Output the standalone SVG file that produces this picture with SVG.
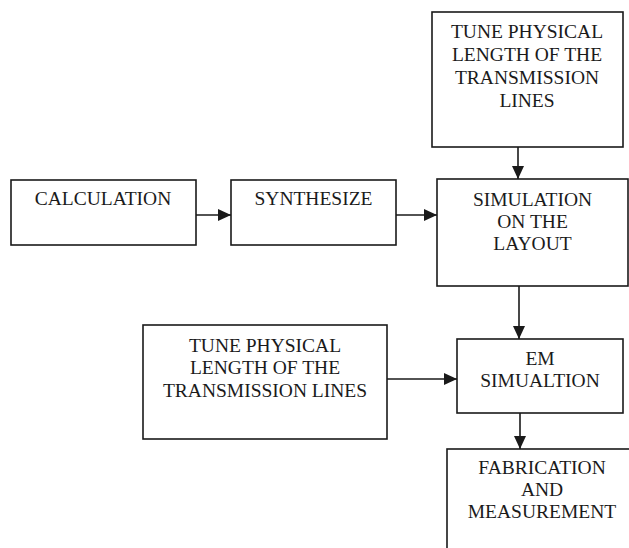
<svg xmlns="http://www.w3.org/2000/svg" width="629" height="548" viewBox="0 0 629 548">
<defs>
<style>
.box{fill:#fff;stroke:#1a1a1a;stroke-width:1.6}
.lbl{font-family:'Liberation Serif','Times New Roman','DejaVu Serif',serif;font-size:19.5px;fill:#1a1a1a;text-anchor:middle}
.con{stroke:#1a1a1a;stroke-width:1.6;fill:none;marker-end:url(#ah)}
</style>
<marker id="ah" markerUnits="userSpaceOnUse" markerWidth="14" markerHeight="13" refX="13" refY="6" orient="auto">
<path d="M0,0 L13,6 L0,12 z" fill="#1a1a1a"/>
</marker>
</defs>
<rect width="629" height="548" fill="#fff"/>
<g id="connectors">
<line class="con" x1="196" y1="215" x2="231" y2="215"/>
<line class="con" x1="396" y1="215" x2="437" y2="215"/>
<line class="con" x1="518" y1="147" x2="518" y2="179"/>
<line class="con" x1="519" y1="286" x2="519" y2="339"/>
<line class="con" x1="387" y1="379" x2="457" y2="379"/>
<line class="con" x1="520" y1="413" x2="520" y2="449"/>
</g>
<g id="tune-top">
<rect class="box" x="432" y="12" width="191" height="135"/>
<text class="lbl" font-family="Liberation Serif, serif" x="527" y="38">TUNE PHYSICAL</text>
<text class="lbl" font-family="Liberation Serif, serif" x="527" y="61">LENGTH OF THE</text>
<text class="lbl" font-family="Liberation Serif, serif" x="527" y="84">TRANSMISSION</text>
<text class="lbl" font-family="Liberation Serif, serif" x="527" y="107">LINES</text>
</g>
<g id="calculation">
<rect class="box" x="11" y="180" width="185" height="65"/>
<text class="lbl" x="103" y="205">CALCULATION</text>
</g>
<g id="synthesize">
<rect class="box" x="231" y="180" width="165" height="65"/>
<text class="lbl" x="313.5" y="205">SYNTHESIZE</text>
</g>
<g id="simulation">
<rect class="box" x="437" y="179" width="191" height="107"/>
<text class="lbl" x="532.5" y="206">SIMULATION</text>
<text class="lbl" x="532.5" y="228">ON THE</text>
<text class="lbl" x="532.5" y="250">LAYOUT</text>
</g>
<g id="tune-left">
<rect class="box" x="143" y="325" width="244" height="114"/>
<text class="lbl" x="265" y="352">TUNE PHYSICAL</text>
<text class="lbl" x="265" y="374">LENGTH OF THE</text>
<text class="lbl" x="265" y="397">TRANSMISSION LINES</text>
</g>
<g id="em">
<rect class="box" x="457" y="339" width="166" height="74"/>
<text class="lbl" x="540" y="365">EM</text>
<text class="lbl" x="540" y="387">SIMUALTION</text>
</g>
<g id="fabrication">
<rect class="box" x="447" y="449" width="200" height="120"/>
<text class="lbl" x="542" y="474">FABRICATION</text>
<text class="lbl" x="542" y="496">AND</text>
<text class="lbl" x="542" y="518">MEASUREMENT</text>
</g>
</svg>
